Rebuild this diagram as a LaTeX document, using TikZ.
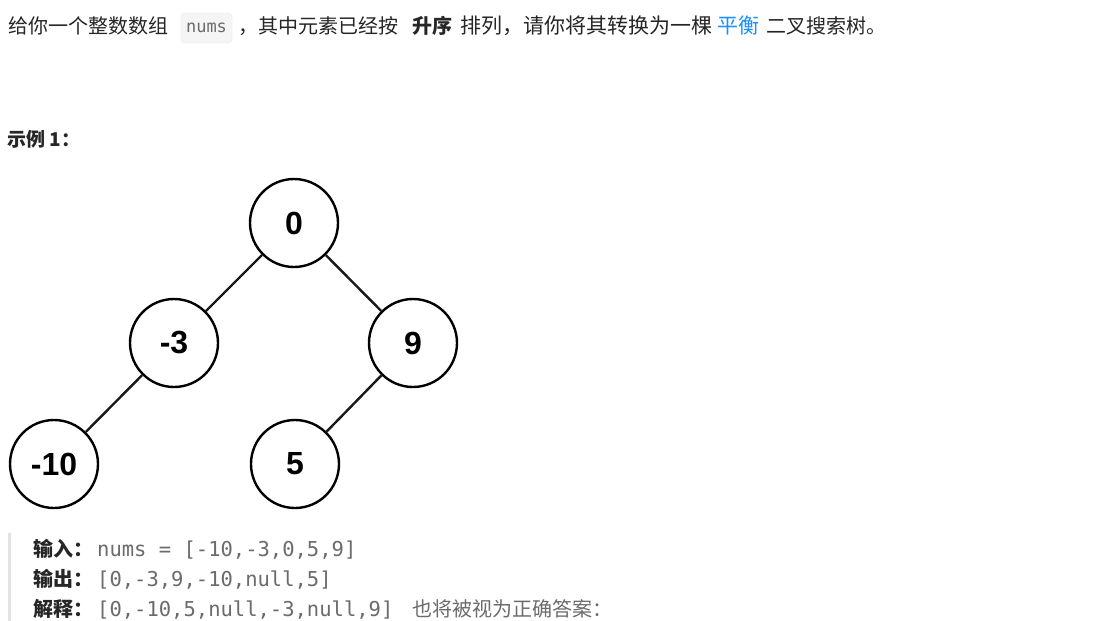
\documentclass[tikz,border=0pt]{standalone}
\usepackage{fontspec}
\setmainfont{Noto Sans CJK SC}
\setmonofont{DejaVu Sans Mono}
\newfontfamily\nodefont{Liberation Sans}
\definecolor{txt}{HTML}{262626}
\definecolor{codegray}{HTML}{6B6B6B}
\definecolor{linkblue}{HTML}{1890FF}
\definecolor{codebg}{HTML}{F5F5F5}
\definecolor{codeborder}{HTML}{E6E6E6}
\definecolor{barcol}{HTML}{E3E3E3}
\begin{document}
\begin{tikzpicture}[x=1pt,y=-1pt,
  txtnode/.style={anchor=base west,inner sep=0pt,font=\fontsize{20}{24}\selectfont,text=txt},
  codenode/.style={anchor=base west,inner sep=0pt,font=\ttfamily\fontsize{20.5}{24}\selectfont,text=codegray},
  treenode/.style={circle,draw=black,line width=2.4pt,minimum size=88pt,inner sep=0pt,font=\nodefont\bfseries\fontsize{32}{36}\selectfont},
  edge/.style={draw=black!90,line width=2.4pt}]
\useasboundingbox[fill=white] (0,0) rectangle (1104,621);

% top line
\node[txtnode] (t1) at (8,34) {给你一个整数数组};
\node[draw=codeborder,fill=codebg,rounded corners=4pt,minimum width=51pt,minimum height=30pt,inner sep=0pt] (code) at (206.5,28) {};
\node[anchor=center,inner sep=0pt,font=\ttfamily\fontsize{17}{20}\selectfont,text=codegray] (codetxt) at (code.center) {nums};
\node[txtnode] (t2) at (238,34) {，其中元素已经按};
\node[txtnode,font=\fontsize{20}{24}\selectfont\bfseries] (t3) at (412,34) {升序};
\node[txtnode,font=\fontsize{21}{24}\selectfont] (t4) at (460,34) {排列，请你将其转换为一棵};
\node[txtnode,font=\fontsize{21}{24}\selectfont,text=linkblue] (t5) at (717,34) {平衡};
\node[txtnode] (t6) at (766,34) {二叉搜索树。};

% example heading
\node[txtnode,font=\fontsize{19}{22}\selectfont\bfseries] (ex) at (7,146) {示例 1：};

% tree
\node[treenode] (n0) at (294,223) {0};
\node[treenode] (nm3) at (174,343) {-3};
\node[treenode] (n9) at (413,343) {9};
\node[treenode] (nm10) at (54,464) {-10};
\node[treenode] (n5) at (295,464) {5};
\draw[edge] (n0) -- (nm3);
\draw[edge] (n0) -- (n9);
\draw[edge] (nm3) -- (nm10);
\draw[edge] (n9) -- (n5);

% bottom block
\fill[barcol] (8,533) rectangle (11,621);
\node[txtnode,font=\fontsize{20}{22}\selectfont\bfseries] (l1) at (33,556) {输入：};
\node[codenode] (c1) at (97,556) {nums = [-10,-3,0,5,9]};
\node[txtnode,font=\fontsize{20}{22}\selectfont\bfseries] (l2) at (33,586) {输出：};
\node[codenode] (c2) at (97,586) {[0,-3,9,-10,null,5]};
\node[txtnode,font=\fontsize{20}{22}\selectfont\bfseries] (l3) at (33,616) {解释：};
\node[codenode] (c3) at (97,616) {[0,-10,5,null,-3,null,9]};
\node[txtnode,text=codegray] (c3b) at (412,616) {也将被视为正确答案：};
\end{tikzpicture}
\end{document}
